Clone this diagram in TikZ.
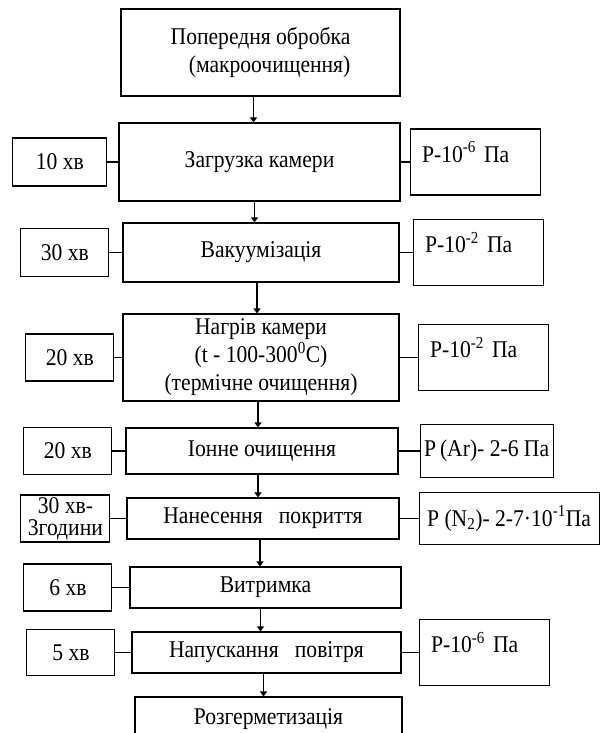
\documentclass[tikz,border=0pt]{standalone}
\usepackage{fontspec}
\setmainfont[FakeStretch=0.9]{Liberation Serif}
\usetikzlibrary{arrows.meta,positioning}

\begin{document}
\begin{tikzpicture}[x=1pt,y=-1pt,line width=1.1pt,font=\fontsize{24}{28}\selectfont]
	  \tikzstyle{stage}=[rectangle,draw=black,align=center,inner sep=0pt]
	  \tikzstyle{timebox}=[rectangle,draw=black,align=center,inner sep=0pt,minimum width=88pt,minimum height=47pt]
	  \tikzstyle{pressbox}=[rectangle,draw=black,align=left,inner xsep=12pt,inner ysep=0pt,text width=106pt,text height=33pt,text depth=33pt]
	  \tikzstyle{gasbox}=[rectangle,draw=black,inner xsep=2pt,inner ysep=0pt,minimum height=52pt]
	  \tikzstyle{flow}=[-{Triangle[length=5pt,width=7pt]}]

	  \clip (0,0) rectangle (605,733);

	  % main column
	  \node[stage,minimum width=279pt,minimum height=87pt,align=right] (pre) at (260.5,52.5) {Попередня обробка\\(макроочищення)};
	  \node[stage,minimum width=281pt,minimum height=78pt] (zag) at (259.5,162) {Загрузка камери};
	  \node[stage,minimum width=276pt,minimum height=59pt] (vak) at (261,252.5) {Вакуумізація};
	  \node[stage,minimum width=276pt,minimum height=87pt] (nag) at (261,357.5) {Нагрів камери\\(t - 100-300\textsuperscript{0}C)\\(термічне очищення)};
	  \node[stage,minimum width=272pt,minimum height=46pt] (ion) at (262,451) {Іонне очищення};
	  \node[stage,minimum width=272pt,minimum height=41pt] (nan) at (263,518.5) {Нанесення~~~покриття};
	  \node[stage,minimum width=271pt,minimum height=41pt] (vyt) at (265.5,587.5) {Витримка};
	  \node[stage,minimum width=269pt,minimum height=41pt] (nap) at (266.5,652.5) {Напускання~~~повітря};
	  \node[stage,minimum width=267pt,minimum height=44pt] (roz) at (268.5,719) {Розгерметизація};

	  % times
	  \node[timebox,minimum width=94pt,minimum height=48pt] (t2) [left=11pt of zag] {10 хв};
	  \node[timebox,minimum height=48pt] (t3) [left=13pt of vak] {30 хв};
	  \node[timebox] (t4) [left=8pt of nag] {20 хв};
	  \node[timebox] (t5) [left=13pt of ion] {20 хв};
	  \node[timebox,minimum width=89pt,font=\fontsize{24}{22}\selectfont] (t6) [left=16pt of nan] {30 хв-\\3години};
	  \node[timebox] (t7) [left=17pt of vyt] {6 хв};
	  \node[timebox,minimum height=46pt] (t8) [left=16pt of nap] {5 хв};

	  % pressures
	  \node[pressbox] (p2) [right=9pt of zag] {P-10\textsuperscript{-6} Па};
	  \node[pressbox] (p3) [right=13pt of vak] {P-10\textsuperscript{-2} Па};
	  \node[pressbox] (p4) [right=18pt of nag] {P-10\textsuperscript{-2} Па};
	  \node[gasbox,minimum width=133pt,minimum height=53pt] (p5) [right=21pt of ion] {P\,(Ar)- 2-6 Па};
	  \node[gasbox,minimum width=180pt] (p6) [right=19pt of nan] {P (N\textsubscript{2})- 2-7·10\textsuperscript{-1}Па};
	  \node[pressbox] (p8) [right=17pt of nap] {P-10\textsuperscript{-6} Па};

	  \foreach \a/\b/\s in {pre/zag/-7, zag/vak/-5, vak/nag/-4, nag/ion/-3, ion/nan/-4, nan/vyt/-3, vyt/nap/-5, nap/roz/-3}
	    \draw[flow] ([xshift=\s pt]\a.south) -- ([xshift=\s pt]\a.south |- \b.north);

	  \foreach \a/\b in {t2/zag, t3/vak, t4/nag, t5/ion, t6/nan, t7/vyt, t8/nap, zag/p2, vak/p3, nag/p4, ion/p5, nan/p6, nap/p8}
	    \draw (\a) -- (\b);
	\end{tikzpicture}
\end{document}
